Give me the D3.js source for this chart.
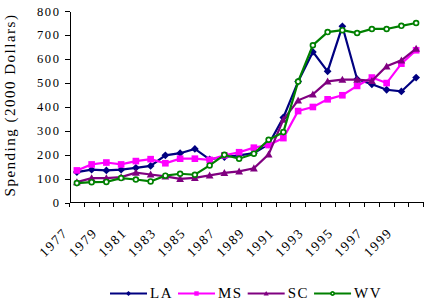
<!DOCTYPE html>
<html>
<head>
<meta charset="utf-8">
<script src="https://cdn.jsdelivr.net/npm/d3@7"></script>
<style>
  html, body { margin: 0; padding: 0; background: #fff; }
  svg { display: block; }
  text { font-family: "Liberation Serif", "Times New Roman", serif; fill: #000; }
</style>
</head>
<body>
<svg id="chart" width="427" height="300"></svg>
<script>
const years = d3.range(1977, 2001).map(String);
const xTickLabels = ["1977","1979","1981","1983","1985","1987","1989","1991","1993","1995","1997","1999"];
const yTicks = [0,100,200,300,400,500,600,700,800];
const seriesNames = ["LA","MS","SC","WV"];
const LA = [127,137,134,137,145,153,197,206,224,180,190,197,206,243,355,505,629,548,736,515,494,471,464,522];
const MS = [134,159,167,159,173,181,164,183,183,178,197,210,229,240,269,382,399,431,448,487,522,499,580,636];
const SC = [85,102,102,106,125,117,109,99,103,113,124,130,143,201,346,427,452,506,513,513,508,569,594,643];
const WV = [81,85,86,102,96,88,112,120,116,155,199,183,204,262,294,505,657,712,720,708,725,725,738,750];
const colors = ["#000080","#FF00FF","#800080","#008000"];
const markers = ["diamond","square","triangle","circle"];
const values = [LA, MS, SC, WV];

const svg = d3.select("#chart");
const x = d3.scaleBand().domain(years).range([69.5, 423.5]).padding(0);
const y = d3.scaleLinear().domain([0, 800]).range([202.5, 11]);

// Y axis
const yAxis = d3.axisLeft(y).tickValues(yTicks).tickSize(5).tickSizeOuter(0).tickPadding(4).tickFormat(d3.format("d"));
const gy = svg.append("g").attr("transform", "translate(69.5,0)").call(yAxis);
gy.selectAll("path, line").attr("stroke", "#000").attr("shape-rendering", "crispEdges");
gy.selectAll("text").attr("font-size", 12.5).attr("letter-spacing", "1.6px")
  .attr("font-family", "Liberation Serif").attr("fill", "#000");

// X axis
const gx = svg.append("g");
gx.append("line").attr("x1", x.range()[0]).attr("x2", x.range()[1])
  .attr("y1", y(0)).attr("y2", y(0)).attr("stroke", "#000").attr("shape-rendering", "crispEdges");
const bounds = years.map(d => x(d)).concat([x.range()[1]]);
gx.selectAll("line.tick").data(bounds).enter().append("line")
  .attr("x1", d => Math.round(d - 0.5) + 0.5).attr("x2", d => Math.round(d - 0.5) + 0.5)
  .attr("y1", y(0)).attr("y2", y(0) + 4).attr("stroke", "#000").attr("shape-rendering", "crispEdges");
gx.selectAll("text").data(xTickLabels).enter().append("text")
  .attr("transform", d => `translate(${x(d) + x.bandwidth() / 2 - 8},${y(0) + 31}) rotate(-45)`)
  .attr("text-anchor", "end").attr("font-size", 13.5).attr("letter-spacing", "1.8px")
  .text(d => d);

// Y title
svg.append("text").attr("transform", "translate(15,105) rotate(-90)")
  .attr("text-anchor", "middle").attr("font-size", 15).attr("letter-spacing", "1.5px")
  .text("Spending (2000 Dollars)");

function drawMarker(g, type, color, s) {
  if (type === "diamond") {
    g.append("path").attr("d", `M0,${-s}L${s},0L0,${s}L${-s},0Z`).attr("fill", color);
  } else if (type === "square") {
    g.append("rect").attr("x", -s * 0.85).attr("y", -s * 0.85).attr("width", s * 1.7).attr("height", s * 1.7).attr("fill", color);
  } else if (type === "triangle") {
    g.append("path").attr("d", `M0,${-s}L${s},${s * 0.8}L${-s},${s * 0.8}Z`).attr("fill", color);
  } else {
    g.append("circle").attr("r", s * 0.62).attr("fill", "#fff").attr("stroke", color).attr("stroke-width", 1.7);
  }
}

const line = d3.line().x((d, i) => x(years[i]) + x.bandwidth() / 2).y(d => y(d));
values.forEach((vals, k) => {
  const g = svg.append("g");
  g.append("path").datum(vals).attr("d", line).attr("fill", "none")
    .attr("stroke", colors[k]).attr("stroke-width", 2.2);
  vals.forEach((v, i) => {
    const m = g.append("g").attr("transform", `translate(${x(years[i]) + x.bandwidth() / 2},${y(v)})`);
    drawMarker(m, markers[k], colors[k], 3.9);
  });
});

// Legend
const legend = svg.append("g");
let lx = 110;
const ly = 293.5;
seriesNames.forEach((name, k) => {
  const g = legend.append("g");
  g.append("line").attr("x1", lx).attr("x2", lx + 37).attr("y1", ly).attr("y2", ly)
    .attr("stroke", colors[k]).attr("stroke-width", 2);
  const m = g.append("g").attr("transform", `translate(${lx + 18.5},${ly})`);
  drawMarker(m, markers[k], colors[k], 2.6);
  const t = g.append("text").attr("x", lx + 40).attr("y", ly + 4.5)
    .attr("font-size", 15).attr("letter-spacing", "1.5px").text(name);
  lx += 40 + t.node().getComputedTextLength() + 5;
});
</script>
</body>
</html>
